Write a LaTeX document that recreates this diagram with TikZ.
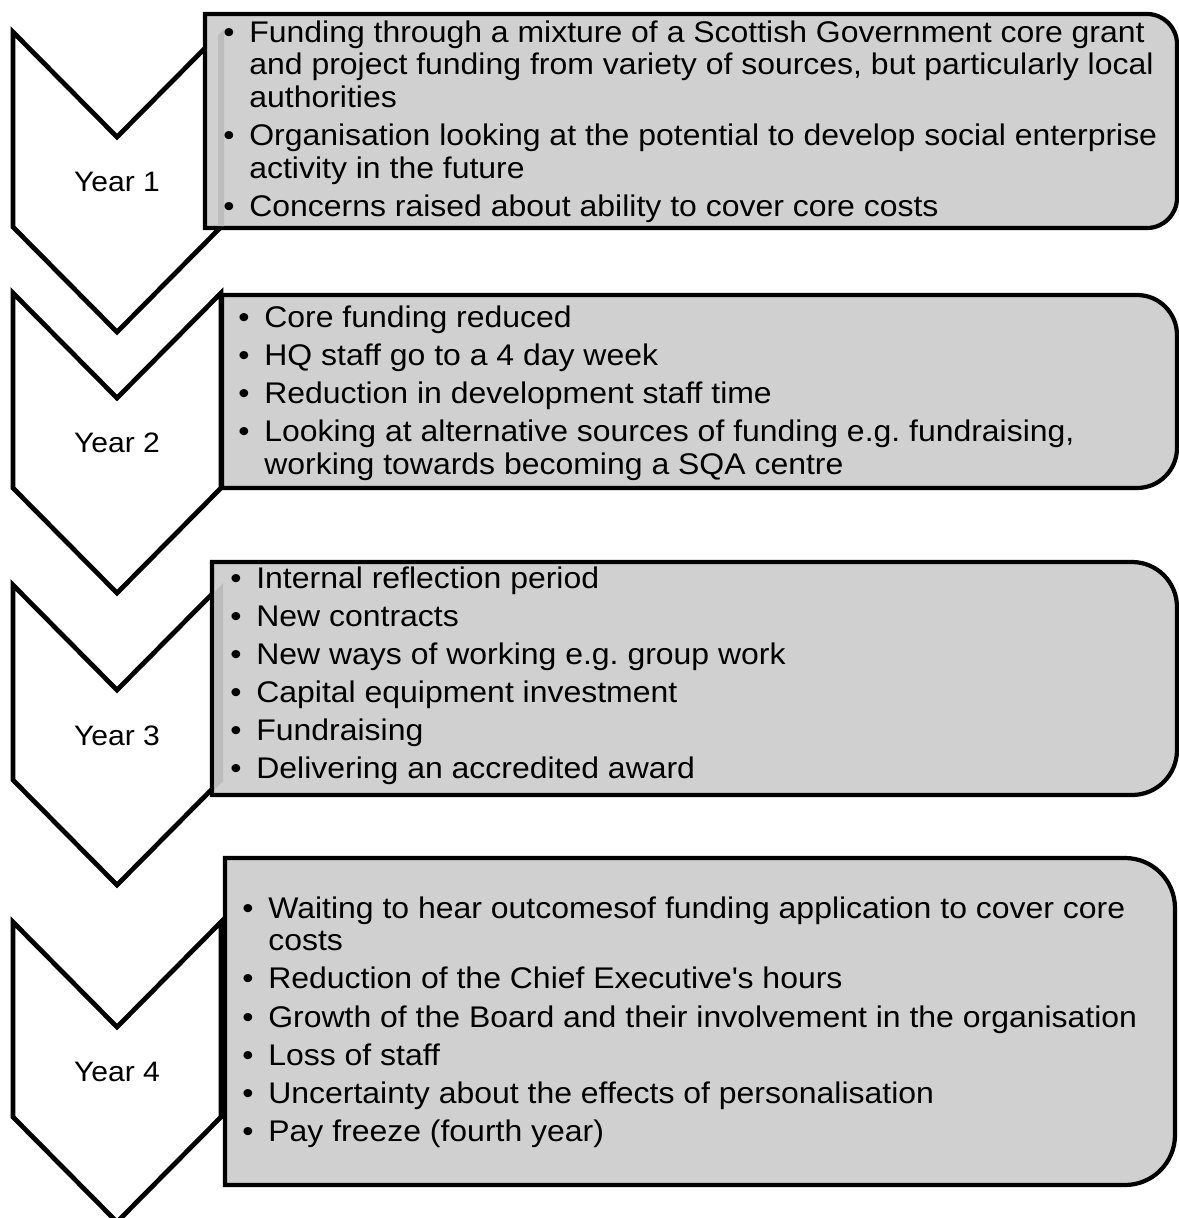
\documentclass[tikz,border=0pt]{standalone}
\usepackage{fontspec}
\setmainfont[FakeStretch=1.07]{Liberation Sans}
\definecolor{boxgray}{RGB}{208,208,208}
\definecolor{bevelgray}{RGB}{188,188,188}
\tikzset{
  chevron/.style={draw=black,fill=white,line width=2.7pt,line join=miter},
  yearbox/.style={draw=black,fill=boxgray,line width=2.4pt},
  bevel/.style={fill=bevelgray,draw=none},
  yearlabel/.style={inner sep=0pt,font=\fontsize{16}{19}\selectfont},
  itemtext/.style={anchor=base west,inner sep=0pt,font=\fontsize{17}{18.7}\selectfont\frenchspacing}
}
\newcommand{\bul}{\makebox[0.52cm][l]{•}}
\newcommand{\cont}{\hspace*{0.52cm}}
\begin{document}
\begin{tikzpicture}[x=0.02cm,y=-0.02cm]
%
\useasboundingbox (0,0) rectangle (1179,1218);
%
% chevrons
\draw[chevron] (13,32) -- (117,137) -- (221,32) -- (221,227) -- (117,332) -- (13,227) -- cycle;
\draw[chevron] (13,293) -- (117,398) -- (221,293) -- (221,488) -- (117,593) -- (13,488) -- cycle;
\draw[chevron] (13,585) -- (117,690) -- (221,585) -- (221,780) -- (117,885) -- (13,780) -- cycle;
\draw[chevron] (13,922) -- (117,1027) -- (221,922) -- (221,1117) -- (117,1222) -- (13,1117) -- cycle;
%
\node[yearlabel] (y1) at (117,182) {Year 1};
\node[yearlabel] (y2) at (117,443) {Year 2};
\node[yearlabel] (y3) at (117,736) {Year 3};
\node[yearlabel] (y4) at (117,1072) {Year 4};
%
% boxes, rounded on the right only
\draw[yearbox] (205,14) -- (1147,14) arc[start angle=90,end angle=0,radius=0.6cm]
  -- (1177,198) arc[start angle=0,end angle=-90,radius=0.6cm] -- (205,228) -- cycle;
\draw[yearbox] (222,295) -- (1137,295) arc[start angle=90,end angle=0,radius=0.8cm]
  -- (1177,448) arc[start angle=0,end angle=-90,radius=0.8cm] -- (222,488) -- cycle;
\draw[yearbox] (212,562) -- (1132,562) arc[start angle=90,end angle=0,radius=0.9cm]
  -- (1177,750) arc[start angle=0,end angle=-90,radius=0.9cm] -- (212,795) -- cycle;
\draw[yearbox] (225,858) -- (1125,858) arc[start angle=90,end angle=0,radius=1cm]
  -- (1175,1135) arc[start angle=0,end angle=-90,radius=1cm] -- (225,1185) -- cycle;
%
\fill[bevel] (218,36) -- (224,29) -- (224,226) -- (218,226) -- cycle;
\fill[bevel] (215,592) -- (223,583) -- (223,781) -- (215,789) -- cycle;
%
\node[itemtext] (t1) at (223,42) {\begin{tabular}[t]{@{}l@{}}
\bul Funding through a mixture of a Scottish Government core grant\\
\cont and project funding from variety of sources, but particularly local\\
\cont authorities\\[3pt]
\bul Organisation looking at the potential to develop social enterprise\\
\cont activity in the future\\[3pt]
\bul Concerns raised about ability to cover core costs
\end{tabular}};
%
\node[itemtext] (t2) at (238,327) {\begin{tabular}[t]{@{}l@{}}
\bul Core funding reduced\\[3pt]
\bul HQ staff go to a 4 day week\\[3pt]
\bul Reduction in development staff time\\[3pt]
\bul Looking at alternative sources of funding e.g. fundraising,\\
\cont working towards becoming a SQA centre
\end{tabular}};
%
\node[itemtext] (t3) at (230,588) {\begin{tabular}[t]{@{}l@{}}
\bul Internal reflection period\\[3pt]
\bul New contracts\\[3pt]
\bul New ways of working e.g. group work\\[3pt]
\bul Capital equipment investment\\[3pt]
\bul Fundraising\\[3pt]
\bul Delivering an accredited award
\end{tabular}};
%
\node[itemtext] (t4) at (242,918) {\begin{tabular}[t]{@{}l@{}}
\bul Waiting to hear outcomesof funding application to cover core\\
\cont costs\\[3pt]
\bul Reduction of the Chief Executive\textquotesingle s hours\\[3pt]
\bul Growth of the Board and their involvement in the organisation\\[3pt]
\bul Loss of staff\\[3pt]
\bul Uncertainty about the effects of personalisation\\[3pt]
\bul Pay freeze (fourth year)
\end{tabular}};
%
\end{tikzpicture}
\end{document}
